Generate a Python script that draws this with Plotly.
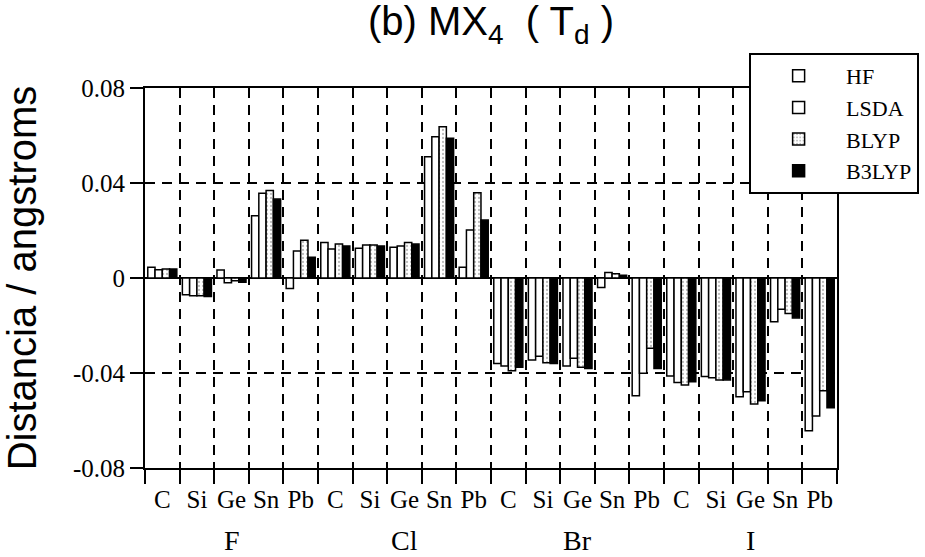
import plotly.graph_objects as go

halogens = ["F", "Cl", "Br", "I"]
metals = ["C", "Si", "Ge", "Sn", "Pb"]
tick_labels = metals * 4
y_tick_vals = [0.08, 0.04, 0.0, -0.04, -0.08]
y_tick_text = ["0.08", "0.04", "0", "-0.04", "-0.08"]

hf = [0.0045, -0.0070, 0.0034, 0.0262, -0.0044,
      0.0149, 0.0125, 0.0129, 0.0511, 0.0045,
      -0.0360, -0.0345, -0.0371, -0.0040, -0.0496,
      -0.0413, -0.0415, -0.0500, -0.0184, -0.0643]
lsda = [0.0035, -0.0075, -0.0020, 0.0357, 0.0114,
        0.0122, 0.0139, 0.0135, 0.0595, 0.0202,
        -0.0371, -0.0329, -0.0338, 0.0023, -0.0401,
        -0.0440, -0.0420, -0.0479, -0.0132, -0.0581]
blyp = [0.0038, -0.0075, -0.0012, 0.0368, 0.0159,
        0.0143, 0.0139, 0.0149, 0.0637, 0.0359,
        -0.0390, -0.0357, -0.0376, 0.0018, -0.0296,
        -0.0451, -0.0429, -0.0531, -0.0149, -0.0475]
b3lyp = [0.0038, -0.0078, -0.0018, 0.0333, 0.0087,
         0.0135, 0.0135, 0.0143, 0.0588, 0.0244,
         -0.0376, -0.0360, -0.0381, 0.0012, -0.0381,
         -0.0437, -0.0429, -0.0517, -0.0168, -0.0546]

x = list(range(len(tick_labels)))
serif = "Liberation Serif"
sans = "Liberation Sans"

fig = go.Figure()
line = dict(color="black", width=1.5)
fig.add_bar(x=x, y=hf, name="HF", marker=dict(color="white", line=line))
fig.add_bar(x=x, y=lsda, name="LSDA", marker=dict(color="white", line=line))
fig.add_bar(x=x, y=blyp, name="BLYP",
            marker=dict(color="white", line=line,
                        pattern=dict(shape=".", fgcolor="#777777", bgcolor="white",
                                     size=4, solidity=0.25)))
fig.add_bar(x=x, y=b3lyp, name="B3LYP", marker=dict(color="black", line=line))

for i, h in enumerate(halogens):
    fig.add_annotation(x=i * 5 + 2, y=-0.19, xref="x", yref="paper",
                       text=h, showarrow=False, yanchor="middle",
                       font=dict(family=serif, size=28, color="black"))

fig.update_layout(
    width=925, height=557,
    margin=dict(l=145, r=88, t=88, b=89, autoexpand=False),
    paper_bgcolor="white", plot_bgcolor="white",
    barmode="group", bargap=0.16, bargroupgap=0.0,
    title=dict(text="(b) MX<sub>4</sub>  ( T<sub>d</sub> )",
               x=0.5, xref="paper", y=0.962, yref="container", yanchor="middle",
               font=dict(family=sans, size=40, color="black")),
    legend=dict(x=0.873, y=1.092, xanchor="left", yanchor="top",
                bgcolor="white", bordercolor="black", borderwidth=2,
                font=dict(family=serif, size=22, color="black"),
                itemwidth=85, entrywidth=200, tracegroupgap=0),
    showlegend=True,
)

fig.update_xaxes(
    range=[-0.5, 19.5], tickmode="array", tickvals=x, ticktext=tick_labels,
    ticks="outside", ticklen=8, tickcolor="rgba(0,0,0,0)",
    tickfont=dict(family=serif, size=25, color="black"),
    showgrid=False, zeroline=False, automargin=False,
    showline=True, linecolor="black", linewidth=2, mirror=True,
    minor=dict(tickmode="linear", tick0=-0.5, dtick=1, ticks="outside",
               ticklen=14, tickwidth=1.5, tickcolor="black",
               showgrid=True, gridcolor="black", gridwidth=1.5,
               griddash="10px,7px"),
)
fig.update_yaxes(
    range=[-0.08, 0.08], tickmode="array", tickvals=y_tick_vals, ticktext=y_tick_text,
    ticks="outside", ticklen=13, tickwidth=1.5, tickcolor="black",
    tickfont=dict(family=serif, size=25, color="black"),
    showgrid=True, gridcolor="black", gridwidth=1.5, griddash="10px,7px",
    zeroline=True, zerolinecolor="black", zerolinewidth=2, automargin=False,
    showline=True, linecolor="black", linewidth=2, mirror=True,
    title=dict(text="Distancia / angstroms", standoff=24,
               font=dict(family=sans, size=40, color="black")),
)

fig.write_html("out.html", config={"displayModeBar": False},
               post_script="document.body.style.margin='0';")
